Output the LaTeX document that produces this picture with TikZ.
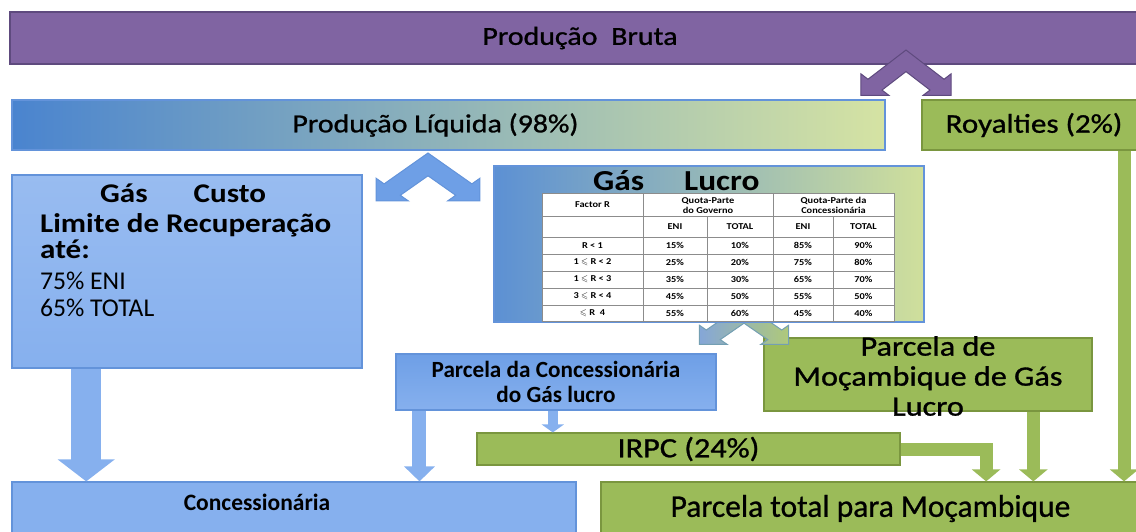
\documentclass[tikz,border=0pt]{standalone}
\usepackage{amssymb}
\usepackage{fontspec}
\setmainfont{Carlito}
\newfontfamily\largo[FakeStretch=1.15]{Carlito}
\newfontfamily\largomeio[FakeStretch=1.15,FakeBold=1]{Carlito}
\newfontfamily\meio[FakeBold=0.8]{Carlito}
\usetikzlibrary{arrows.meta,calc,positioning}
\definecolor{roxo}{HTML}{8064A2}
\definecolor{roxoesc}{HTML}{5E4A7E}
\definecolor{verde}{HTML}{9BBB59}
\definecolor{verdeesc}{HTML}{7A963F}
\definecolor{verdeclaro}{HTML}{D5E3A3}
\definecolor{azul}{HTML}{86B0EE}
\definecolor{azulesc}{HTML}{6393DA}
\definecolor{azulforte}{HTML}{4A84CF}
\definecolor{azulmedio}{HTML}{6E9FE6}
\definecolor{cinza}{HTML}{8C8C8C}
\tikzstyle{caixa} = [rectangle, line width=1.2pt, inner sep=0pt, align=center]
\tikzstyle{caixaroxa} = [caixa, draw=roxoesc, fill=roxo]
\tikzstyle{caixaverde} = [caixa, draw=verdeesc, fill=verde]
\tikzstyle{caixaazul} = [caixa, draw=azulesc, fill=azul]
\tikzstyle{setaverde} = [draw=verde, line width=13pt, -{Triangle[width=28pt,length=12pt]}]
\tikzstyle{setaazul} = [draw=azul, line width=14pt, -{Triangle[width=30pt,length=15pt]}]
\tikzstyle{celula} = [font=\largo\bfseries\fontsize{9}{10}\selectfont, align=center, inner sep=0pt]
\tikzstyle{linhatab} = [draw=cinza, line width=0.8pt]
\tikzset{chevron/.pic={
  \path[pic actions] (0,0) -- (-32.5,32.5) -- (-38.5,26.5) -- (-38.5,50.5) -- (-14.5,50.5)
    -- (-20.5,44.5) -- (0,24) -- (20.5,44.5) -- (14.5,50.5) -- (38.5,50.5) -- (38.5,26.5)
    -- (32.5,32.5) -- cycle;
}}
\begin{document}
\begin{tikzpicture}[x=1pt,y=-1pt]
\useasboundingbox (0,0) rectangle (1136,531);
% linha de cima
\node[caixaroxa, minimum width=1140pt, minimum height=52pt, font=\largomeio\fontsize{26}{30}\selectfont] (bruta) at (580,38) {Produção\hspace{7pt} Bruta};
\node[caixa, draw=azulesc, left color=azulforte, right color=verdeclaro, minimum width=873pt, minimum height=50pt, font=\largomeio\fontsize{26}{30}\selectfont] (liquida) at (448.5,125) {Produção Líquida (98\%)\hspace{26pt}};
\node[caixaverde, minimum width=224pt, minimum height=50pt, font=\largomeio\fontsize{27}{30}\selectfont] (royalties) at (1034,125) {Royalties (2\%)};
\pic[fill=roxo, draw=roxoesc, line width=1pt, xscale=1.17, yscale=0.9] (chevroxo) at (906,50) {chevron};
% gas custo
\node[caixa, draw=azulesc, top color=azul!85!white, bottom color=azul, minimum width=350pt, minimum height=193pt] (custo) at (187,271.5) {};
\node[anchor=base west, font=\largo\bfseries\fontsize{27}{30}\selectfont, inner sep=0pt] (custo1) at (100,202) {Gás\hspace{46pt}Custo};
\node[anchor=base west, font=\largo\bfseries\fontsize{27}{30}\selectfont, inner sep=0pt] (custo2) at (40,232) {Limite de Recuperação};
\node[anchor=base west, font=\largo\bfseries\fontsize{27}{30}\selectfont, inner sep=0pt] (custo3) at (40,258) {até:};
\node[anchor=base west, font=\fontsize{25.6}{28}\selectfont, inner sep=0pt] (custo4) at (40,289) {75\% ENI};
\node[anchor=base west, font=\fontsize{25.6}{28}\selectfont, inner sep=0pt] (custo5) at (40,316) {65\% TOTAL};
\pic[fill=azulmedio, draw=azulesc, line width=1pt, xscale=1.35, yscale=0.95] (chevazul) at (428,153) {chevron};
% parcelas
\node[caixaverde, minimum width=328pt, minimum height=73pt] (parmoc) at (928,374.5) {};
\node[font=\largomeio\fontsize{28}{30}\selectfont, align=center, inner sep=0pt] (parmoctxt) at (928,376) {Parcela de\\Moçambique de Gás\\Lucro};
\pic[left color=azul!80!gray, right color=verde!80!white, draw=azulesc!70!verde, line width=1pt, xscale=1.16, yscale=0.8] (chevclaro) at (744,304) {chevron};
% gas lucro com a tabela
\node[caixa, draw=azulesc, left color=azulforte!90!white, right color=verdeclaro!90!verde, minimum width=430pt, minimum height=156pt] (lucro) at (709,244) {};
\node[anchor=base west, font=\largo\bfseries\fontsize{29}{32}\selectfont, inner sep=0pt] (lucrotit) at (593,190) {Gás\hspace{40pt}Lucro};
\node[draw=cinza, fill=white, line width=0.8pt, minimum width=352pt, minimum height=128pt, inner sep=0pt] (tab) at (718,257) {};
\foreach \y in {216,237,254,271,288,305}
  \draw[linhatab] (542,\y) -- (894,\y);
\draw[linhatab] (643,193) -- (643,321);
\draw[linhatab] (773,193) -- (773,321);
\foreach \x in {707,833}
  \draw[linhatab] (\x,216) -- (\x,321);
\node[celula] (h1) at (592.5,205) {Factor R};
\node[celula] (h2) at (708,205.5) {Quota-Parte\\do Governo};
\node[celula] (h3) at (833.5,205.5) {Quota-Parte da\\Concessionária};
\foreach \x/\t [count=\i] in {675/ENI,740/TOTAL,803/ENI,863.5/TOTAL}
  \node[celula] (s\i) at (\x,226.5) {\t};
\foreach \r/\y/\a/\b/\c/\d [count=\i] in {{R < 1}/245.5/15/10/85/90,
    {1 $\leqslant$ R < 2}/262.5/25/20/75/80,
    {1 $\leqslant$ R < 3}/279.5/35/30/65/70,
    {3 $\leqslant$ R < 4}/296.5/45/50/55/50,
    {$\leqslant$ R\ \ 4}/313/55/60/45/40}{
  \node[celula] (r\i) at (592.5,\y) {\r};
  \node[celula] (ga\i) at (675,\y) {\a\%};
  \node[celula] (gb\i) at (740,\y) {\b\%};
  \node[celula] (ca\i) at (803,\y) {\c\%};
  \node[celula] (cb\i) at (863.5,\y) {\d\%};
}
\node[caixa, draw=azulesc, top color=azulmedio, bottom color=azul, minimum width=320pt, minimum height=56pt, font=\bfseries\fontsize{23.2}{25}\selectfont] (parconc) at (556,382) {Parcela da Concessionária\\do Gás lucro};
\node[caixaverde, minimum width=423pt, minimum height=32pt, font=\largomeio\fontsize{28}{30}\selectfont] (irpc) at (688.5,449) {IRPC (24\%)};
% linha de baixo
\node[caixaazul, minimum width=564pt, minimum height=53pt] (conc) at (294,508.5) {};
\node[font=\bfseries\fontsize{23.5}{26}\selectfont, inner sep=0pt] (conctxt) at (257,502) {Concessionária};
\node[caixaverde, minimum width=539pt, minimum height=53pt, font=\meio\fontsize{31.5}{34}\selectfont] (total) at (870.5,508.5) {Parcela total para Moçambique};
% setas
\draw[setaazul, line width=30pt, -{Triangle[width=56pt,length=22pt]}] ($(custo.south west)!0.213!(custo.south east)$) coordinate (c1) -- (c1 |- conc.north);
\draw[setaazul] ($(parconc.south west)!0.075!(parconc.south east)$) coordinate (c2) -- (c2 |- conc.north);
\draw[setaazul, line width=10pt, -{Triangle[width=22pt,length=8pt]}] ($(parconc.south west)!0.49!(parconc.south east)$) coordinate (c3) -- (c3 |- irpc.north);
\draw[setaverde] (irpc.east) -| ($(total.north west)!0.714!(total.north east)$);
\draw[setaverde] ($(parmoc.south west)!0.82!(parmoc.south east)$) coordinate (c4) -- (c4 |- total.north);
\draw[setaverde] ($(royalties.south west)!0.9!(royalties.south east)$) coordinate (c5) -- (c5 |- total.north);
\end{tikzpicture}
\end{document}
